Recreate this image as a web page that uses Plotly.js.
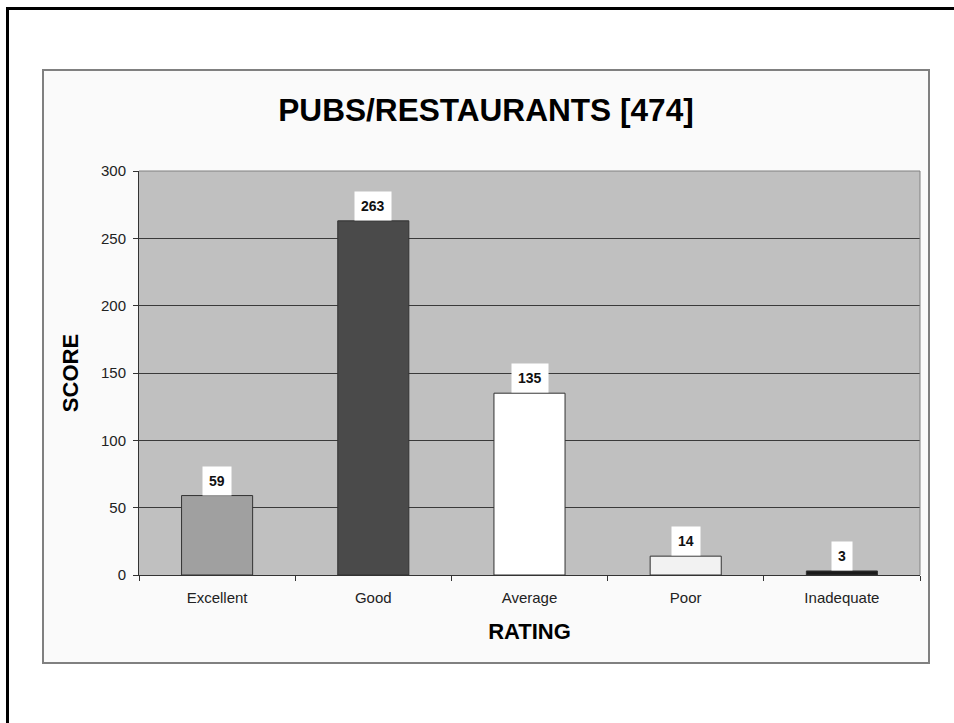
<!DOCTYPE html>
<html>
<head>
<meta charset="utf-8">
<script src="https://cdn.plot.ly/plotly-3.0.1.min.js"></script>
<style>
  html, body { margin:0; padding:0; width:954px; height:723px; overflow:hidden; background:#ffffff; }
  #frame { position:absolute; left:6px; top:7px; width:1100px; height:1100px; border:3px solid #000; box-sizing:border-box; }
  #box { position:absolute; left:42px; top:69px; width:888px; height:595px; border:2px solid #808080; background:#fafafa; box-sizing:border-box; }
  #chart { position:absolute; left:0; top:0; width:954px; height:723px; }
</style>
</head>
<body>
<div id="frame"></div>
<div id="box"></div>
<div id="chart"></div>
<script>
const categories = ["Excellent", "Good", "Average", "Poor", "Inadequate"];
const scores = [59, 263, 135, 14, 3];
const barColors = ["#a0a0a0", "#4a4a4a", "#ffffff", "#f2f2f2", "#1a1a1a"];
const yTicks = [0, 50, 100, 150, 200, 250, 300];
const chartTitle = "PUBS/RESTAURANTS [474]";
const xTitle = "RATING";
const yTitle = "SCORE";

const FONT = "Liberation Sans, Arial, sans-serif";

const trace = {
  type: "bar",
  x: categories,
  y: scores,
  marker: { color: barColors, line: { color: "#333333", width: 1 } },
  hoverinfo: "x+y"
};

const annotations = categories.map((c, i) => ({
  x: c, y: scores[i], xref: "x", yref: "y",
  text: String(scores[i]),
  showarrow: false, yanchor: "bottom", xanchor: "center",
  bgcolor: "#ffffff", borderpad: 6,
  font: { family: FONT, size: 14, color: "#111111", weight: "bold" }
}));

const layout = {
  width: 954, height: 723,
  margin: { l: 139, r: 34, t: 171, b: 148, autoexpand: false },
  paper_bgcolor: "rgba(0,0,0,0)",
  plot_bgcolor: "#c0c0c0",
  showlegend: false,
  bargap: 0.545,
  title: {
    text: chartTitle, x: 486/954, xanchor: "center", xref: "container",
    y: 1 - 110/723, yanchor: "middle", yref: "container",
    font: { family: FONT, size: 31.6, color: "#000000", weight: "bold" }
  },
  xaxis: {
    type: "category",
    showgrid: false, zeroline: false,
    showline: true, linecolor: "#333333", linewidth: 1,
    ticks: "outside", tickson: "boundaries", ticklen: 5, tickcolor: "#333333",
    ticklabelstandoff: 9,
    tickfont: { family: FONT, size: 15, color: "#222222" },
    title: { text: xTitle, standoff: 18, font: { family: FONT, size: 22, color: "#000000", weight: "bold" } },
    automargin: false
  },
  yaxis: {
    range: [0, 300], tickvals: yTicks, ticktext: yTicks.map(String),
    showgrid: true, gridcolor: "#3a3a3a", gridwidth: 1,
    zeroline: false,
    showline: true, linecolor: "#333333", linewidth: 1,
    ticks: "outside", ticklen: 5, tickcolor: "#333333",
    ticklabelstandoff: 4,
    tickfont: { family: FONT, size: 15, color: "#222222" },
    title: { text: yTitle, standoff: 16, font: { family: FONT, size: 22, color: "#000000", weight: "bold" } },
    automargin: false
  },
  shapes: [
    { type: "line", xref: "paper", yref: "paper", x0: 0, x1: 1, y0: 1, y1: 1, line: { color: "#808080", width: 1 } },
    { type: "line", xref: "paper", yref: "paper", x0: 1, x1: 1, y0: 0, y1: 1, line: { color: "#808080", width: 1 } }
  ],
  annotations: annotations
};

Plotly.newPlot("chart", [trace], layout, { displayModeBar: false, staticPlot: true });
</script>
</body>
</html>
